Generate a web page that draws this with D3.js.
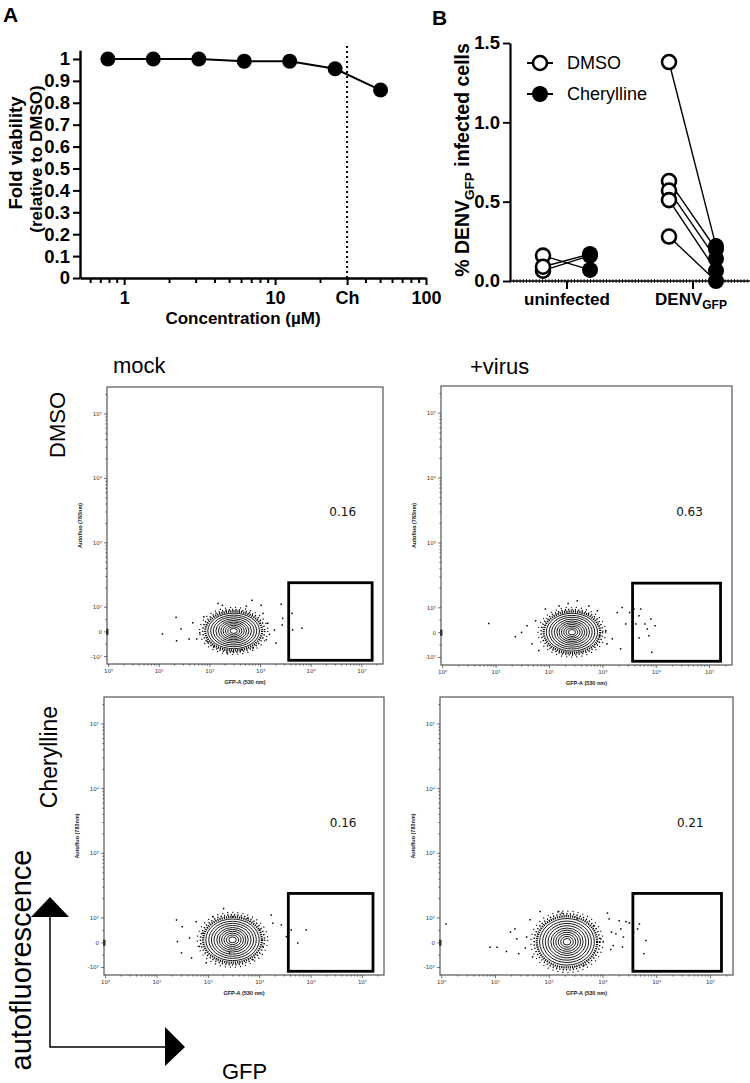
<!DOCTYPE html>
<html>
<head>
<meta charset="utf-8">
<script src="https://cdn.jsdelivr.net/npm/d3@7/dist/d3.min.js"></script>
<style>
  body { margin: 0; background: #fff; }
  svg { font-family: "Liberation Sans", Arial, Helvetica, sans-serif; }
</style>
</head>
<body>
<svg width="750" height="1083"></svg>
<script>
// ---------- Panel A : viability ----------
var concentrations = [0.78, 1.56, 3.125, 6.25, 12.5, 25, 50];
var viability = [1.0, 1.0, 1.0, 0.99, 0.99, 0.955, 0.858];
var viabilityTicks = [0, 0.1, 0.2, 0.3, 0.4, 0.5, 0.6, 0.7, 0.8, 0.9, 1];
var viabilityTickLabels = ["0", "0.1", "0.2", "0.3", "0.4", "0.5", "0.6", "0.7", "0.8", "0.9", "1"];
var concTicks = [1, 10, 30, 100];
var concTickLabels = ["1", "10", "Ch", "100"];
var chConc = 30;

// ---------- Panel B : % infected ----------
var groups = ["uninfected", "DENV"];
var treatments = ["DMSO", "Cherylline"];
var uninfDMSO = [0.16, 0.065, 0.09];
var uninfCher = [0.07, 0.16, 0.17];
var denvDMSO = [1.38, 0.63, 0.57, 0.51, 0.28];
var denvCher = [0.22, 0.20, 0.14, 0.065, 0.0];
var pctTicks = [0, 0.5, 1.0, 1.5];

// ---------- flow plots (mock/+virus x DMSO/Cherylline) ----------
var flowPercents = ["0.16", "0.63", "0.16", "0.21"];
var gateGfp = [3600, 160000];
var gateAf = [-115, 240];
var xTickValues = [1, 10, 100, 1000, 10000, 100000];
var xTickLabels = ["10\u2070", "10\u00b9", "10\u00b2", "10\u00b3", "10\u2074", "10\u2075"];
var yTickValues = [-100, 0, 100, 1000, 10000, 100000];
var yTickLabels = ["-10\u00b2", "0", "10\u00b2", "10\u00b3", "10\u2074", "10\u2075"];
// contour centre [GFP, autofluo] and outer half-width [decades, autofluo units]
var contourCenters = [[295, 4], [263, 2], [295, 12], [214, 4]];
var contourRadii = [[0.51, 72], [0.48, 76], [0.52, 84], [0.51, 94]];
var contourLevels = [1, 0.89, 0.79, 0.69, 0.59, 0.5, 0.41, 0.32, 0.23, 0.14];

// events outside the contours [GFP, autofluo]
var dotsTL = [[11.6, -9], [21.5, 59], [22, -36], [27, 12], [39, -29], [46, 37], [55, -29], [63, -3],
  [76, 61], [145, 114], [177, 107], [219, -85], [288, -79], [420, -72], [525, 104], [676, 128],
  [1030, 107], [1120, 75], [1390, 35], [1300, -32], [2560, 111], [2740, 55], [2680, 28],
  [4200, 75], [4300, 8], [6560, 15], [1880, 8], [2030, -45], [710, -65], [90, -40], [120, -58], [1500, -10]];
var dotsTR = [[7.3, 37], [23, -16], [30, 1], [38, 28], [47, -45], [55, 48], [63, -72], [84, 95],
  [151, 107], [224, 116], [331, 128], [547, 107], [790, 88], [1130, 8], [1200, -45], [1500, -25],
  [1860, 81], [2150, -65], [2300, 101], [2680, 35], [3170, 81], [3820, 95], [4130, 35], [4760, 68],
  [5100, 95], [6150, 35], [6800, 15], [7300, -12], [7900, 55], [9500, 28], [8250, -79], [4760, -21], [870, -12]];
var dotsBL = [[24, 92], [31, 65], [25, 5], [30, -41], [43, 19], [47, -61], [58, 85], [67, -15],
  [78, 39], [122, 105], [198, 140], [300, 105], [585, 99], [735, -68], [1000, 52], [1150, -15],
  [1670, 111], [1800, 79], [2630, 72], [3300, 25], [4100, 52], [5500, -1], [8000, 52], [258, -41], [91, -81]];
var dotsBR = [[1.2, 76], [7.9, -18], [10.7, -18], [16, -35], [19, 43], [23, 56], [25, 16], [27, -44],
  [36, -21], [38, 23], [44, 93], [49, -57], [68, 126], [150, 126], [173, 119], [331, 96], [441, -91],
  [676, 69], [910, 16], [1210, 119], [1300, 96], [1440, 43], [1550, -11], [1740, 36], [2000, 89],
  [2150, 56], [2300, -17], [2400, 23], [2680, 85], [3100, 80], [3720, 43], [4400, 56], [4760, 76],
  [6300, 9], [5750, -44], [1400, -27]];
var flowDots = [dotsTL, dotsTR, dotsBL, dotsBR];

var svg = d3.select("svg");

drawPanelA();
drawPanelB();
for (var i = 0; i < 4; i++) drawFlowPanel(i);
drawLabels();

function drawPanelA() {
    var g = svg.append("g");
    var x = d3.scaleLog().domain([0.51, 100]).range([80, 426]);
    var y = d3.scaleLinear().domain([0, 1.04]).range([278, 50.2]);

    g.append("text").attr("x", 3).attr("y", 22).attr("font-size", 21).attr("font-weight", "bold").text("A");

    var yAxis = g.append("g").attr("transform", "translate(80,0)")
        .call(d3.axisLeft(y).tickValues(viabilityTicks).tickSize(7).tickSizeOuter(0)
            .tickFormat(function(d, i) { return viabilityTickLabels[i]; }));
    styleAxis(yAxis, 18.5, 2.4);

    var xAxis = g.append("g").attr("transform", "translate(0,278)")
        .call(d3.axisBottom(x).tickValues(concTicks).tickSize(7).tickSizeOuter(0)
            .tickFormat(function(d, i) { return concTickLabels[i]; }));
    styleAxis(xAxis, 18, 2.4);
    xAxis.selectAll("text").attr("dy", "0.9em");

    //minor log ticks
    var minor = x.ticks().filter(function(d) { return concTicks.indexOf(d) < 0 && d > 0.51; });
    g.selectAll(".minorA").data(minor).enter().append("line")
        .attr("x1", function(d) { return x(d); }).attr("x2", function(d) { return x(d); })
        .attr("y1", 278).attr("y2", 283).attr("stroke", "#000").attr("stroke-width", 2);

    g.append("text").attr("x", 243).attr("y", 324).attr("text-anchor", "middle")
        .attr("font-size", 17).attr("font-weight", "bold").text("Concentration (\u00b5M)");

    g.append("text").attr("transform", "translate(22,153) rotate(-90)").attr("text-anchor", "middle")
        .attr("font-size", 18.5).attr("font-weight", "bold").text("Fold viability");
    g.append("text").attr("transform", "translate(42,159) rotate(-90)").attr("text-anchor", "middle")
        .attr("font-size", 17).attr("font-weight", "bold").text("(relative to DMSO)");

    // Ch marker line
    g.append("line").attr("x1", x(chConc)).attr("x2", x(chConc)).attr("y1", 46).attr("y2", 278)
        .attr("stroke", "#000").attr("stroke-width", 2).attr("stroke-dasharray", "2,3");

    var pts = concentrations.map(function(c, i) { return [c, viability[i]]; });
    g.append("path").datum(pts)
        .attr("d", d3.line().x(function(d) { return x(d[0]); }).y(function(d) { return y(d[1]); }))
        .attr("fill", "none").attr("stroke", "#000").attr("stroke-width", 2);
    g.selectAll(".ptA").data(pts).enter().append("circle")
        .attr("cx", function(d) { return x(d[0]); }).attr("cy", function(d) { return y(d[1]); })
        .attr("r", 7.5).attr("fill", "#000");
}

function drawPanelB() {
    var g = svg.append("g");
    var y = d3.scaleLinear().domain([0, 1.5]).range([281, 43]);
    var xg = d3.scalePoint().domain(groups).range([567, 693]);
    var xt = d3.scalePoint().domain(treatments).range([-24, 23]);

    g.append("text").attr("x", 432).attr("y", 25).attr("font-size", 21).attr("font-weight", "bold").text("B");

    var yAxis = g.append("g").attr("transform", "translate(510,0)")
        .call(d3.axisLeft(y).tickValues(pctTicks).tickSize(7).tickSizeOuter(0).tickFormat(d3.format(".1f")));
    styleAxis(yAxis, 18.5, 2.2);

    // baseline
    g.append("line").attr("x1", 510).attr("x2", 750).attr("y1", y(0)).attr("y2", y(0))
        .attr("stroke", "#000").attr("stroke-width", 1.4);
    g.append("line").attr("x1", 510).attr("x2", 750).attr("y1", y(0)).attr("y2", y(0))
        .attr("stroke", "#000").attr("stroke-width", 3.5).attr("stroke-dasharray", "1,2.2");
    g.selectAll(".tickB").data(groups).enter().append("line")
        .attr("x1", function(d) { return xg(d); }).attr("x2", function(d) { return xg(d); })
        .attr("y1", y(0)).attr("y2", y(0) + 8).attr("stroke", "#000").attr("stroke-width", 2);

    g.append("text").attr("x", xg("uninfected")).attr("y", 305).attr("text-anchor", "middle")
        .attr("font-size", 17).attr("font-weight", "bold").text("uninfected");
    var dl = g.append("text").attr("x", xg("DENV") - 2).attr("y", 305).attr("text-anchor", "middle")
        .attr("font-size", 17).attr("font-weight", "bold");
    dl.append("tspan").text("DENV");
    dl.append("tspan").attr("font-size", 12).attr("dy", 4).text("GFP");

    var yl = g.append("text").attr("transform", "translate(469,160) rotate(-90)").attr("text-anchor", "middle")
        .attr("font-size", 19.5).attr("font-weight", "bold");
    yl.append("tspan").text("% DENV");
    yl.append("tspan").attr("font-size", 13.5).attr("dy", 4.5).text("GFP");
    yl.append("tspan").attr("dy", -4.5).text(" infected cells");

    var pairs = [];
    uninfDMSO.forEach(function(v, i) { pairs.push({ g: "uninfected", a: v, b: uninfCher[i] }); });
    denvDMSO.forEach(function(v, i) { pairs.push({ g: "DENV", a: v, b: denvCher[i] }); });

    g.selectAll(".pair").data(pairs).enter().append("line")
        .attr("x1", function(d) { return xg(d.g) + xt("DMSO"); })
        .attr("x2", function(d) { return xg(d.g) + xt("Cherylline"); })
        .attr("y1", function(d) { return y(d.a); }).attr("y2", function(d) { return y(d.b); })
        .attr("stroke", "#000").attr("stroke-width", 1.4);
    g.selectAll(".open").data(pairs).enter().append("circle")
        .attr("cx", function(d) { return xg(d.g) + xt("DMSO"); }).attr("cy", function(d) { return y(d.a); })
        .attr("r", 7).attr("fill", "#fff").attr("stroke", "#000").attr("stroke-width", 2.6);
    g.selectAll(".filled").data(pairs).enter().append("circle")
        .attr("cx", function(d) { return xg(d.g) + xt("Cherylline"); }).attr("cy", function(d) { return y(d.b); })
        .attr("r", 8).attr("fill", "#000");

    // legend
    var ly = [63, 94];
    treatments.forEach(function(t, i) {
        g.append("line").attr("x1", 527).attr("x2", 553).attr("y1", ly[i]).attr("y2", ly[i])
            .attr("stroke", "#000").attr("stroke-width", 2);
        g.append("circle").attr("cx", 540).attr("cy", ly[i]).attr("r", i == 0 ? 7 : 8)
            .attr("fill", i == 0 ? "#fff" : "#000").attr("stroke", "#000").attr("stroke-width", i == 0 ? 2.6 : 0);
        g.append("text").attr("x", 567).attr("y", ly[i]).attr("dy", "0.36em").attr("font-size", 18).text(t);
    });
}

function drawFlowPanel(i) {
    var frames = [[107, 383, 387, 664], [441, 732, 386, 665], [104, 384, 697, 975], [440, 733, 697, 975]];
    var f = frames[i];
    var x0 = f[0], x1 = f[1], y0 = f[2], y1 = f[3];
    var x = d3.scaleLog().domain([0.93, 262144]).range([x0, x1]);
    var linH = (y1 - y0) * 0.205;
    var yLin = d3.scaleLinear().domain([-130, 100]).range([y1, y1 - linH]);
    var yLog = d3.scaleLog().domain([100, 262144]).range([y1 - linH, y0]);
    var y = function(v) { return v >= 100 ? yLog(v) : yLin(v); };
    var g = svg.append("g");

    g.append("rect").attr("x", x0).attr("y", y0).attr("width", x1 - x0).attr("height", y1 - y0)
        .attr("fill", "none").attr("stroke", "#555").attr("stroke-width", 1.2);

    var isMajor = function(d) { return Math.abs(Math.log10(Math.abs(d)) % 1) < 1e-6 || d == 0; };
    var xt = x.ticks().filter(function(d) { return d >= 1; });
    g.selectAll(".xt").data(xt).enter().append("line")
        .attr("x1", function(d) { return x(d); }).attr("x2", function(d) { return x(d); })
        .attr("y1", y1).attr("y2", function(d) { return y1 + (isMajor(d) ? 3 : 1.6); })
        .attr("stroke", "#333").attr("stroke-width", 0.7);
    var yt = yLog.ticks().concat([-100, -50, 0, 50]);
    g.selectAll(".yt").data(yt).enter().append("line")
        .attr("x1", x0).attr("x2", function(d) { return x0 - (isMajor(d) ? 3 : 1.6); })
        .attr("y1", function(d) { return y(d); }).attr("y2", function(d) { return y(d); })
        .attr("stroke", "#333").attr("stroke-width", 0.7);
    g.append("rect").attr("x", x0 - 1).attr("y", y(0) - 3).attr("width", 2.5).attr("height", 6).attr("fill", "#333");

    g.selectAll(".xl").data(xTickValues).enter().append("text")
        .attr("x", function(d) { return x(d); }).attr("y", y1 + 9).attr("text-anchor", "middle")
        .attr("font-family", "DejaVu Sans").attr("font-size", 5.5).attr("fill", "#333")
        .text(function(d, k) { return xTickLabels[k]; });
    g.selectAll(".yl").data(yTickValues).enter().append("text")
        .attr("x", x0 - 5).attr("y", function(d) { return y(d); }).attr("dy", "0.35em").attr("text-anchor", "end")
        .attr("font-family", "DejaVu Sans").attr("font-size", 5.5).attr("fill", "#333")
        .text(function(d, k) { return yTickLabels[k]; });

    g.append("text").attr("x", (x0 + x1) / 2).attr("y", y1 + 20).attr("text-anchor", "middle")
        .attr("font-size", 5.5).attr("font-weight", "bold").attr("fill", "#222").text("GFP-A (530 nm)");
    g.append("text").attr("transform", "translate(" + (x0 - 25) + "," + ((y0 + y1) / 2) + ") rotate(-90)")
        .attr("text-anchor", "middle").attr("font-size", 5.5).attr("font-weight", "bold").attr("fill", "#222")
        .text("Autofluo (783nm)");

    // contours
    var c = contourCenters[i], r = contourRadii[i];
    var cx = x(c[0]), cy = y(c[1]);
    var ell = function(L) {
        return { rx: x(c[0] * Math.pow(10, r[0] * L)) - cx, ry: y(c[1] - r[1] * L) - cy };
    };
    [1.1, 1.2, 1.32].forEach(function(L, k) {
        var e = ell(L);
        g.append("ellipse").attr("cx", cx).attr("cy", cy).attr("rx", e.rx).attr("ry", e.ry)
            .attr("fill", "none").attr("stroke", "#000").attr("stroke-width", [2.2, 1.6, 1.2][k])
            .attr("stroke-dasharray", ["1.2,1", "1.2,2.2", "1.1,4"][k]);
    });
    g.selectAll(".cont").data(contourLevels).enter().append("ellipse")
        .attr("cx", cx).attr("cy", cy)
        .attr("rx", function(L) { return ell(L).rx; }).attr("ry", function(L) { return ell(L).ry; })
        .attr("fill", "none").attr("stroke", "#000").attr("stroke-width", 0.9);

    g.selectAll(".dot").data(flowDots[i]).enter().append("rect")
        .attr("x", function(d) { return x(d[0]) - 0.75; }).attr("y", function(d) { return y(d[1]) - 0.75; })
        .attr("width", 1.5).attr("height", 1.5).attr("fill", "#000");

    // gate
    g.append("rect").attr("x", x(gateGfp[0])).attr("y", y(gateAf[1]))
        .attr("width", x(gateGfp[1]) - x(gateGfp[0])).attr("height", y(gateAf[0]) - y(gateAf[1]))
        .attr("fill", "none").attr("stroke", "#000").attr("stroke-width", 2.8);
    g.append("text").attr("x", x(42000)).attr("y", y(3000)).attr("dy", "0.35em").attr("text-anchor", "middle")
        .attr("font-family", "DejaVu Sans").attr("font-size", 12).attr("fill", "#111").text(flowPercents[i]);
}

function drawLabels() {
    var g = svg.append("g");
    g.append("text").attr("x", 113).attr("y", 373).attr("font-size", 22).text("mock");
    g.append("text").attr("x", 470).attr("y", 374).attr("font-size", 22).text("+virus");
    g.append("text").attr("transform", "translate(65,425) rotate(-90)").attr("text-anchor", "middle")
        .attr("font-size", 22).text("DMSO");
    g.append("text").attr("transform", "translate(57,757) rotate(-90)").attr("text-anchor", "middle")
        .attr("font-size", 23).text("Cherylline");
    g.append("text").attr("transform", "translate(31,960) rotate(-90)").attr("text-anchor", "middle")
        .attr("font-size", 29).text("autofluorescence");
    g.append("text").attr("x", 222).attr("y", 1079).attr("font-size", 22).text("GFP");

    // axis arrows
    g.append("path").attr("d", "M50,917 L50,1047 L165,1047").attr("fill", "none")
        .attr("stroke", "#000").attr("stroke-width", 1.5);
    g.append("path").attr("d", "M31,917 L69,917 L50,897 Z").attr("fill", "#000");
    g.append("path").attr("d", "M165,1027 L165,1066 L185,1047 Z").attr("fill", "#000");
}

function styleAxis(ax, fs, sw) {
    ax.selectAll("path").attr("stroke-width", sw);
    ax.selectAll("line").attr("stroke-width", sw * 0.85);
    ax.selectAll("text").attr("font-size", fs).attr("font-weight", "bold").attr("fill", "#000")
        .attr("font-family", '"Liberation Sans", Arial, sans-serif');
}
</script>
</body>
</html>
